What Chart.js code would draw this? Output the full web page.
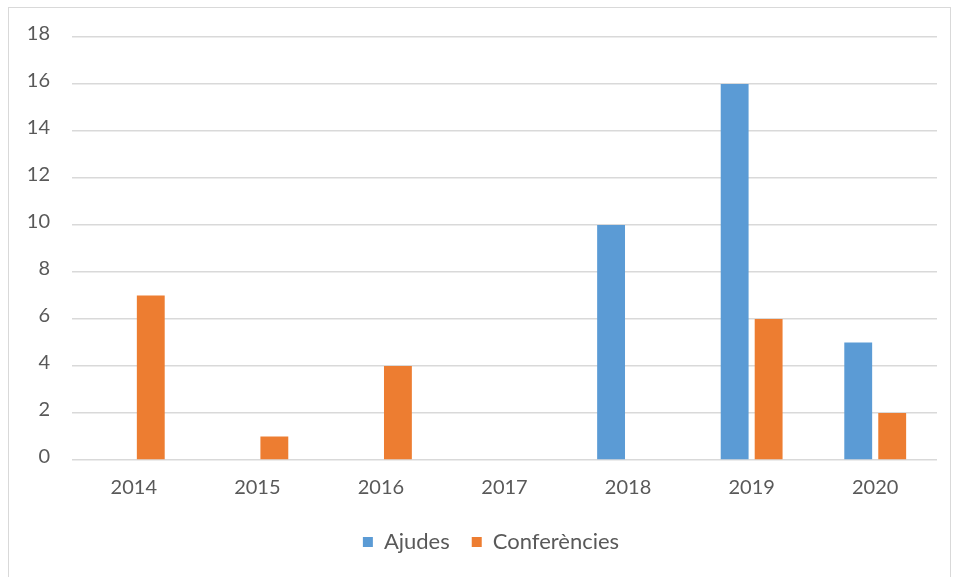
<!DOCTYPE html>
<html>
<head>
<meta charset="utf-8">
<script src="https://cdn.jsdelivr.net/npm/chart.js@4"></script>
<style>
  body { margin: 0; background: #fff; }
  #frame { position: absolute; left: 8px; top: 7px; width: 941px; height: 580px; border: 1px solid #d9d9d9; }
  #wrap { position: absolute; left: 0; top: 0; width: 940px; height: 569px; }
</style>
</head>
<body>
<div id="frame"><div id="wrap"><canvas id="chart"></canvas></div></div>
<script>
// years on the x axis
const years = ['2014', '2015', '2016', '2017', '2018', '2019', '2020'];
// values per series
const ajudes = [0, 0, 0, 0, 10, 16, 5];
const conferencies = [7, 1, 4, 0, 0, 6, 2];
const yTicks = [0, 2, 4, 6, 8, 10, 12, 14, 16, 18];

// legend sits a bit right of the canvas centre in the original
const shiftLegend = {
  id: 'shiftLegend',
  afterLayout: function(chart) {
    chart.legend.left += 18;
    chart.legend.right += 18;
  }
};

const ctx = document.getElementById('chart').getContext('2d');
const chart = new Chart(ctx, {
  type: 'bar',
  data: {
    labels: years,
    datasets: [{
      label: 'Ajudes',
      data: ajudes,
      backgroundColor: '#5B9BD5',
      categoryPercentage: 0.55,
      barPercentage: 0.82
    }, {
      label: 'Conferències',
      data: conferencies,
      backgroundColor: '#ED7D31',
      categoryPercentage: 0.55,
      barPercentage: 0.82
    }]
  },
  plugins: [shiftLegend],
  options: {
    responsive: true,
    maintainAspectRatio: false,
    animation: false,
    layout: { padding: { left: 0, right: 12, top: 29, bottom: 14 } },
    plugins: {
      tooltip: { enabled: false },
      legend: {
        position: 'bottom',
        labels: {
          font: { family: 'Lato', size: 22 },
          color: '#595959',
          boxWidth: 10,
          boxHeight: 10,
          padding: 22
        }
      }
    },
    scales: {
      x: {
        grid: { display: false },
        border: { display: false },
        ticks: { font: { family: 'Lato', size: 20 }, color: '#595959', padding: 8 },
        afterFit: function(scale) { scale.height = 49; }
      },
      y: {
        min: 0,
        max: 18,
        afterBuildTicks: function(scale) { scale.ticks = yTicks.map(v => ({ value: v })); },
        grid: { color: '#d9d9d9', lineWidth: 1.5, drawTicks: false },
        border: { display: false },
        ticks: { font: { family: 'Lato', size: 20 }, color: '#595959', padding: 22, labelOffset: -3 },
        afterFit: function(scale) {
          scale.width = 63;
          scale.paddingTop = 0;
          scale.paddingBottom = 0;
        }
      }
    }
  }
});
</script>
</body>
</html>
